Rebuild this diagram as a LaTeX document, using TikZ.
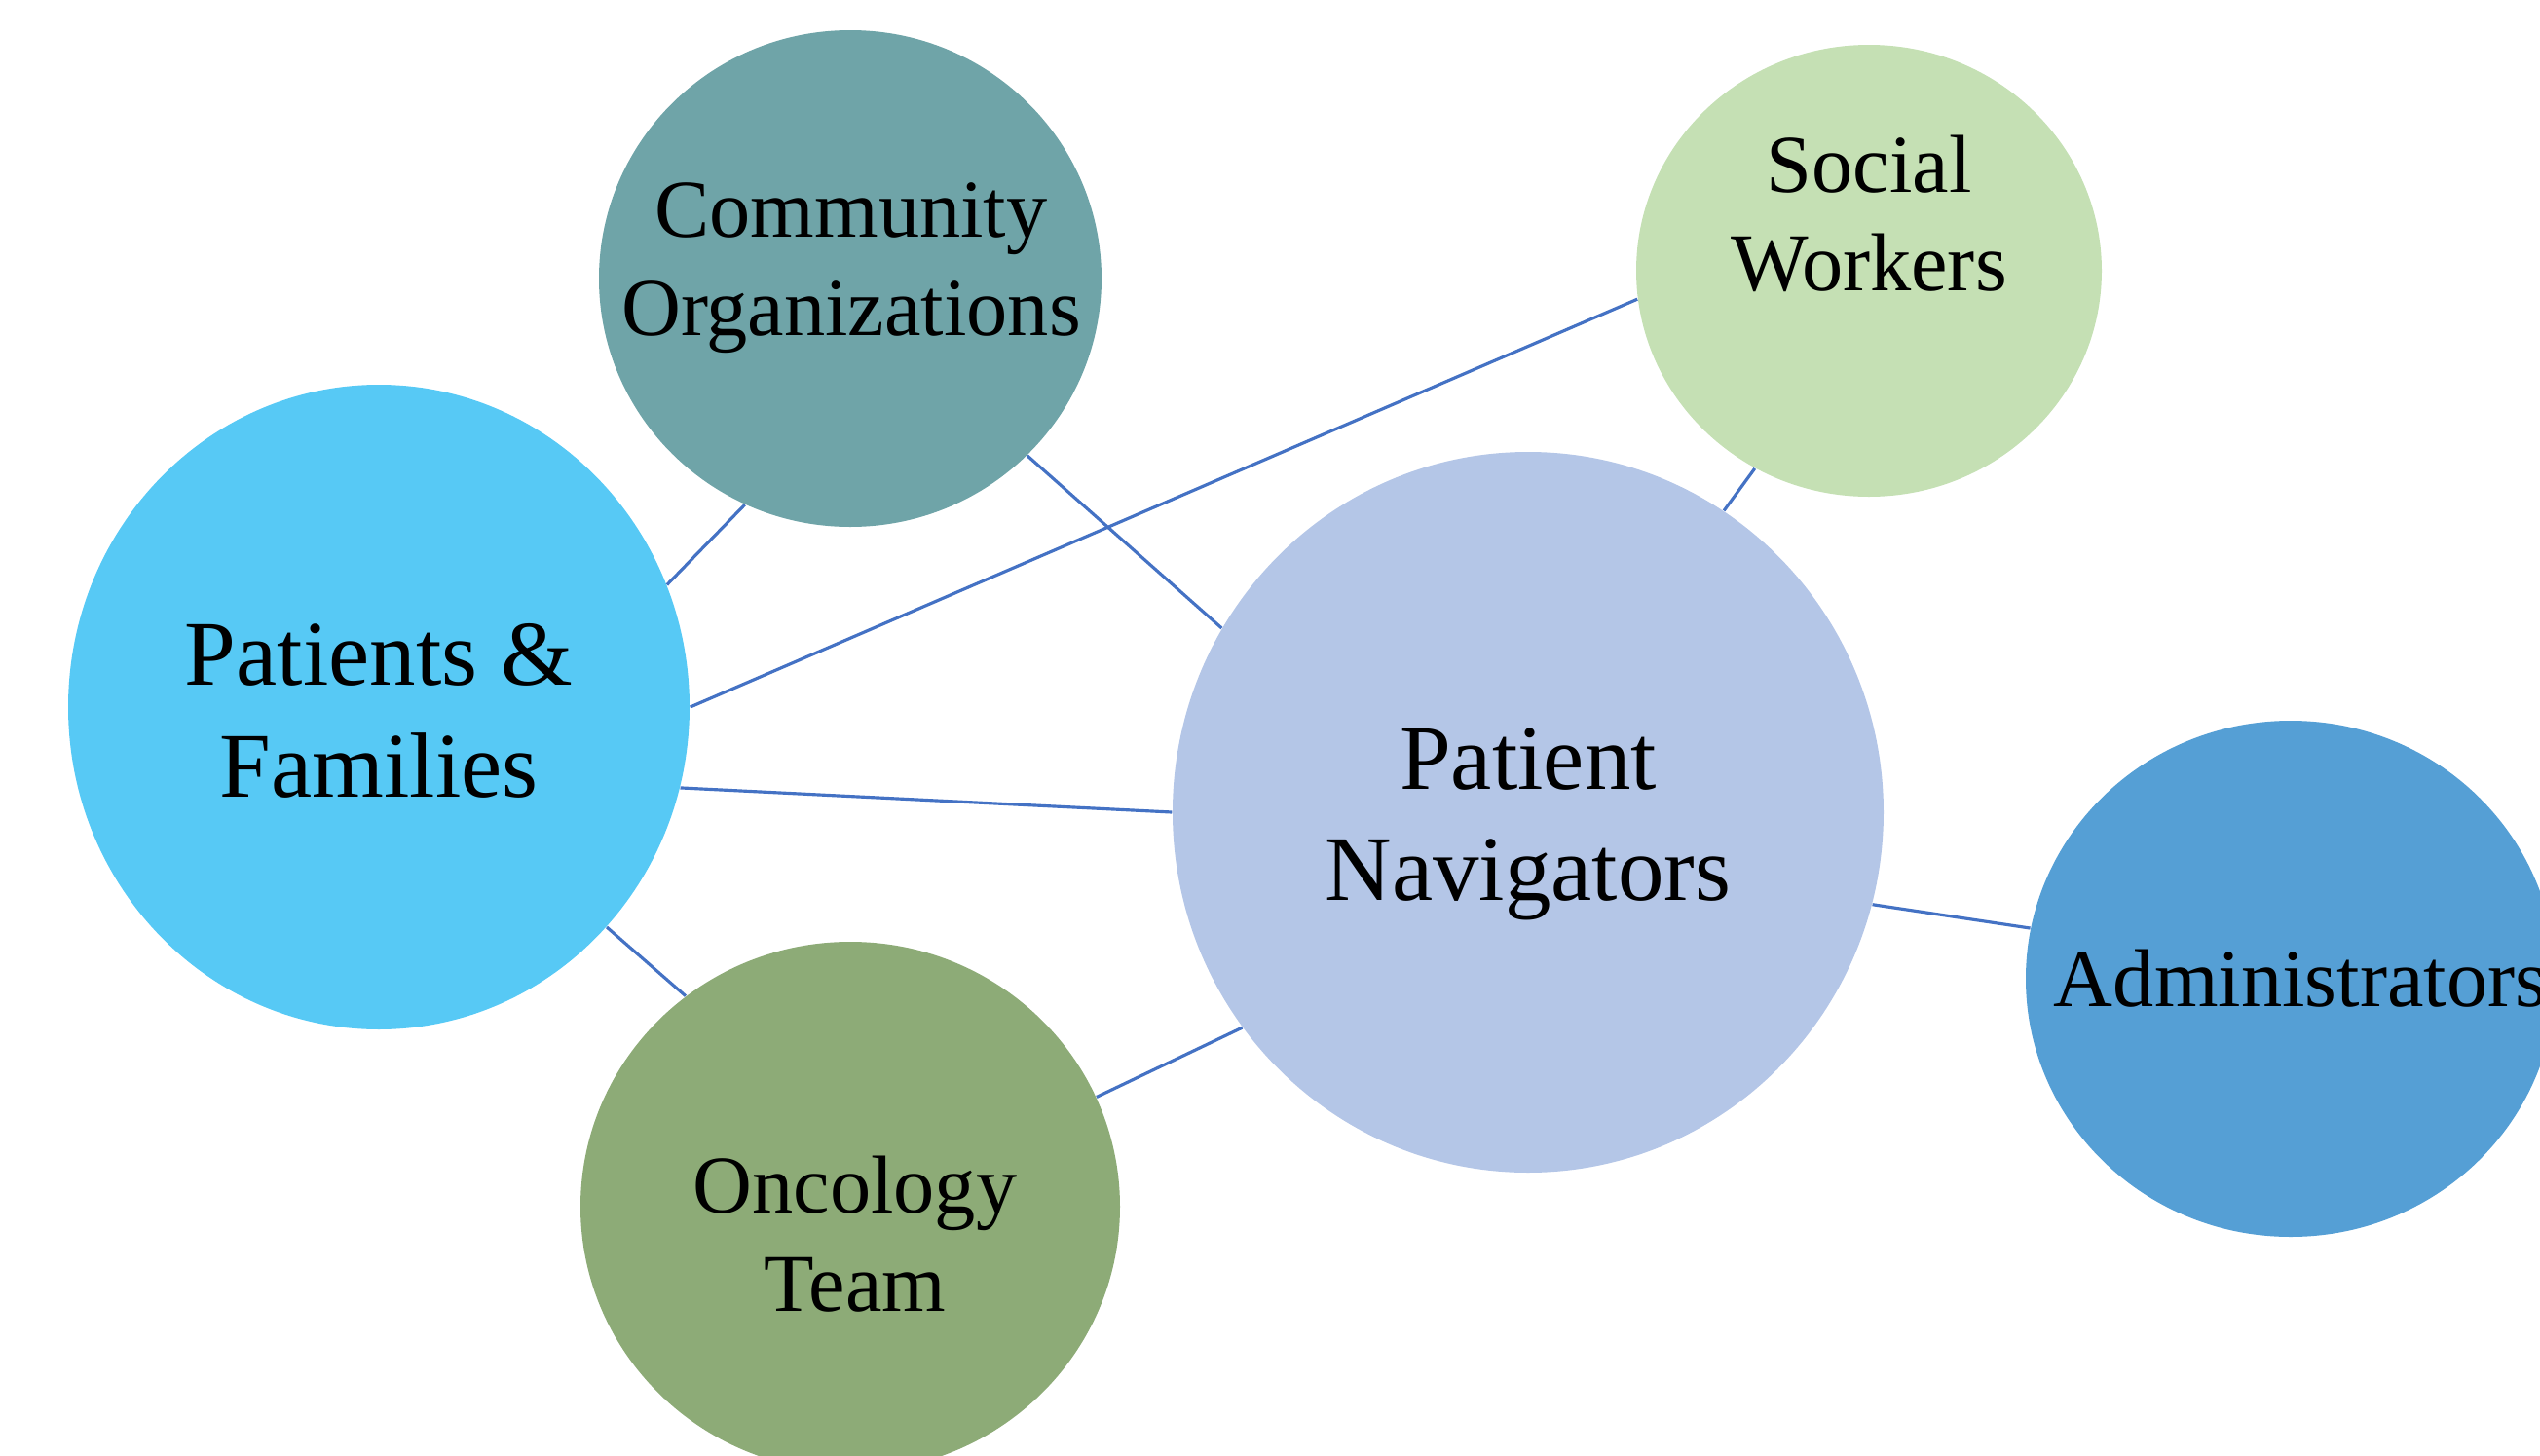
\documentclass[tikz,border=0pt]{standalone}
\usepackage{fontspec}
\setmainfont{Liberation Serif}
\usepackage{tikz}
\usetikzlibrary{shapes.geometric, positioning}
\definecolor{pfblue}{HTML}{57C9F5}
\definecolor{coteal}{HTML}{6FA4A8}
\definecolor{swgreen}{HTML}{C5E0B4}
\definecolor{pnblue}{HTML}{B4C6E7}
\definecolor{adblue}{HTML}{559FD5}
\definecolor{ongreen}{HTML}{8DAB77}
\definecolor{linkblue}{HTML}{4472C4}
\tikzset{
	bubble/.style={ellipse, inner sep=0pt, draw=none}, % the coloured circles
	bigtext/.style={align=center, font=\fontsize{27}{32.5}\selectfont}, % main labels
	smalltext/.style={align=center, font=\fontsize{24}{28.8}\selectfont}, % outer labels
	link/.style={draw=linkblue, line width=0.9pt}, % thin connectors
}
\begin{document}
\begin{tikzpicture}
	\useasboundingbox (0,0) rectangle (26.08,-14.95);
	\clip (0,0) rectangle (26.08,-14.95);
			\node[bubble, fill=pfblue, minimum width=6.38cm, minimum height=6.62cm] at (3.89,-7.26) (pf) {};
			\node[bubble, fill=coteal, minimum width=5.16cm, minimum height=5.10cm] at (8.73,-2.86) (co) {};
			\node[bubble, fill=swgreen, minimum width=4.78cm, minimum height=4.64cm] at (19.19,-2.78) (sw) {};
			\node[bubble, fill=pnblue, minimum width=7.30cm, minimum height=7.40cm] at (15.69,-8.34) (pn) {};
			\node[bubble, fill=adblue, minimum width=5.44cm, minimum height=5.30cm] at (23.52,-10.05) (ad) {};
			\node[bubble, fill=ongreen, minimum width=5.54cm, minimum height=5.44cm] at (8.73,-12.39) (on) {};
			\node[bigtext] at (3.89,-7.30) (pft) {Patients \&\\Families};
			\node[smalltext] at (8.74,-2.75) (cot) {Community\\Organizations};
			\node[smalltext] at (19.19,-2.19) (swt) {Social\\Workers};
			\node[bigtext] at (15.69,-8.46) (pnt) {Patient\\Navigators};
			\node[smalltext] at (23.62,-10.05) (adt) {Administrators};
			\node[smalltext] at (8.78,-12.67) (ont) {Oncology\\Team};
	\draw[link] 	(pf.23) -- (co.-115)
			(pf.east) -- (sw.187)
			(pf.-15) -- (pn.west)
			(pf.-44) -- (on.128)
			(co.-45) -- (pn.149)
			(sw.240) -- (pn.57)
			(on.24) -- (pn.217)
			(pn.-15) -- (ad.169);
	\end{tikzpicture}
\end{document}
